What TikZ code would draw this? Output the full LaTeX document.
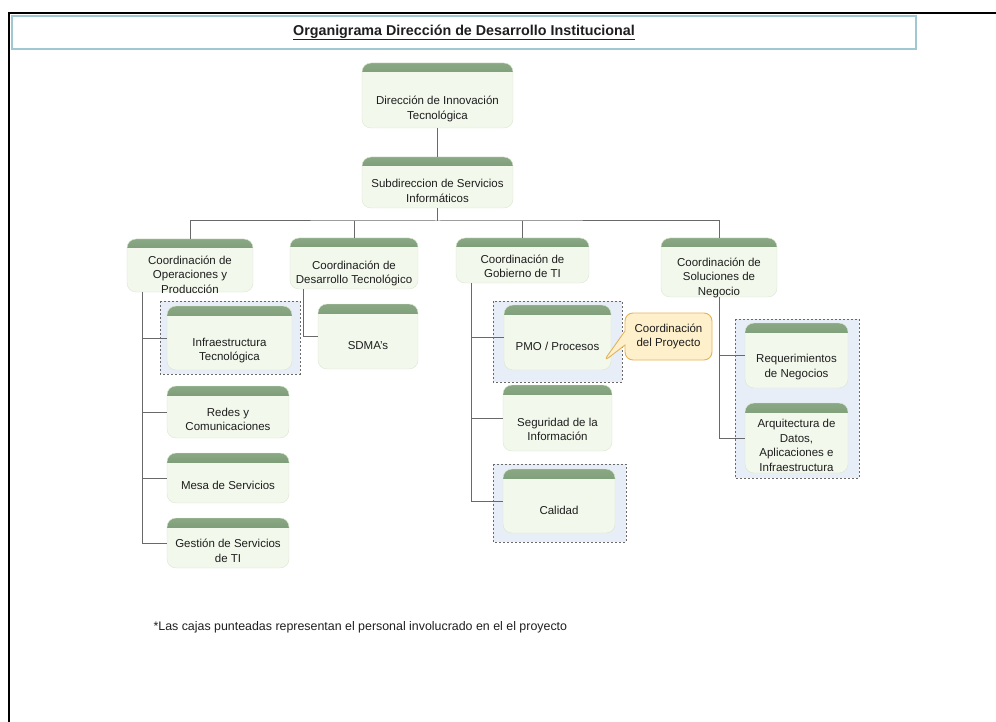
\documentclass[tikz,border=0pt]{standalone}
\usepackage{fontspec}
\setmainfont{Liberation Sans}
\usetikzlibrary{shapes.callouts, calc}
\definecolor{unitfill}{RGB}{242,248,236}
\definecolor{unitedge}{RGB}{218,231,207}
\definecolor{bandtop}{RGB}{138,168,132}
\definecolor{bandbot}{RGB}{76,112,73}
\definecolor{linkgray}{RGB}{105,105,105}
\definecolor{crewfill}{RGB}{232,238,247}
\definecolor{crewedge}{RGB}{105,105,105}
\definecolor{notefill}{RGB}{255,240,204}
\definecolor{noteedge}{RGB}{226,180,90}
\definecolor{titleedge}{RGB}{160,200,210}
\definecolor{inkgray}{RGB}{30,30,30}
\newcommand{\bandgap}[1][27pt]{\rule{0pt}{#1}}

\begin{document}
\begin{tikzpicture}[
    x=1pt, y=-1pt,
    unit/.style={draw=unitedge, fill=unitfill, rounded corners=9pt, inner xsep=0pt, inner ysep=-6pt,
      align=center, text=inkgray, font=\fontsize{11.5}{14.5}\selectfont,
      path picture={\shade[sharp corners, top color=bandtop, bottom color=bandbot]
        (path picture bounding box.north west)
        rectangle ([yshift=-9pt]path picture bounding box.north east);}},
    crew/.style={draw=crewedge, fill=crewfill, dash pattern=on 2pt off 2pt, line width=0.8pt},
    link/.style={draw=linkgray, line width=1pt},
    frame/.style={line width=2pt},
    heading/.style={draw=titleedge, line width=1.2pt, text=inkgray,
      font=\fontsize{14.3}{16}\selectfont\bfseries},
    foot/.style={font=\fontsize{12.4}{14}\selectfont, text=inkgray, anchor=west},
    callbox/.style={rectangle callout, draw=noteedge, fill=notefill, line width=0.9pt,
      rounded corners=8pt, inner sep=0pt, align=center, text=inkgray,
      font=\fontsize{11.5}{14}\selectfont, callout pointer width=14pt}
  ]
  \useasboundingbox (0,0) rectangle (996,722);

  % page frame and title
  \draw[frame] (996,13) -- (9,13) -- (9,722);
  \node[heading, minimum width=904, minimum height=33] (title) at (464,32.5)
    {\underline{Organigrama Dirección de Desarrollo Institucional}};

  % dotted boxes: people involved in the project
  \draw[crew] (160,301) rectangle (300,374);
  \draw[crew] (493,301) rectangle (622,382);
  \draw[crew] (493,464) rectangle (626,542);
  \draw[crew] (735,319) rectangle (859,478);

  % top levels
  \node[unit, minimum width=151, minimum height=65] (dir) at (437.5,95.5)
    {\bandgap[35pt]Dirección de Innovación\\Tecnológica};
  \node[unit, minimum width=151, minimum height=51] (sub) at (437.5,182.5)
    {\bandgap[25pt]Subdireccion de Servicios\\Informáticos};

  % coordinations
  \node[unit, minimum width=126, minimum height=53] (ope) at (190,265.5)
    {\bandgap Coordinación de\\Operaciones y\\Producción};
  \node[unit, minimum width=128, minimum height=51] (des) at (354,263.5)
    {\bandgap[28pt]Coordinación de\\Desarrollo Tecnológico};
  \node[unit, minimum width=133, minimum height=45] (gob) at (522.5,260.5)
    {\bandgap[20pt]Coordinación de\\Gobierno de TI};
  \node[unit, minimum width=116, minimum height=59] (sol) at (719,267.5)
    {\bandgap[29pt]Coordinación de\\Soluciones de\\Negocio};

  % areas
  \node[unit, minimum width=125, minimum height=64] (infra) at (229.5,338)
    {\bandgap[33pt]Infraestructura\\Tecnológica};
  \node[unit, minimum width=122, minimum height=52] (redes) at (228,412)
    {\bandgap[23pt]Redes y\\Comunicaciones};
  \node[unit, minimum width=122, minimum height=50] (mesa) at (228,478)
    {\bandgap[23pt]Mesa de Servicios};
  \node[unit, minimum width=122, minimum height=50] (gest) at (228,543)
    {\bandgap[24pt]Gestión de Servicios\\de TI};
  \node[unit, minimum width=100, minimum height=65] (sdma) at (368,336.5)
    {\bandgap SDMA's};
  \node[unit, minimum width=107, minimum height=65] (pmo) at (557.5,337.5)
    {\bandgap PMO / Procesos};
  \node[unit, minimum width=109, minimum height=66] (seg) at (557.5,418)
    {\bandgap[31pt]Seguridad de la\\Información};
  \node[unit, minimum width=112, minimum height=64] (cal) at (559,501)
    {\bandgap Calidad};
  \node[unit, minimum width=103, minimum height=65] (req) at (796.5,355.5)
    {\bandgap[31pt]Requerimientos\\de Negocios};
  \node[unit, minimum width=103, minimum height=70] (arq) at (796.5,438)
    {\bandgap[23pt]Arquitectura de\\Datos,\\Aplicaciones e\\Infraestructura};

  % connectors
  \coordinate (bus) at (437.5,221);
  \draw[link] (dir) -- (sub);
  \draw[link] (sub) -- (bus);
  \draw[link] (ope.north) |- (bus) -| (sol.north);
  \draw[link] (des.north) -- (des.north |- bus);
  \draw[link] (gob.north) -- (gob.north |- bus);

  \coordinate (opestem) at ([xshift=16pt]ope.south west);
  \draw[link] (opestem) |- (gest.west);
  \foreach \n in {infra,redes,mesa}
    \draw[link] (opestem |- \n.west) -- (\n.west);

  \coordinate (desstem) at ([xshift=14pt]des.south west);
  \draw[link] (desstem) |- (sdma.west);

  \coordinate (gobstem) at ([xshift=16pt]gob.south west);
  \draw[link] (gobstem) |- (cal.west);
  \foreach \n in {pmo,seg}
    \draw[link] (gobstem |- \n.west) -- (\n.west);

  \draw[link] (sol.south) |- (arq.west);
  \draw[link] (sol.south |- req.west) -- (req.west);

  % callout on PMO
  \node[callbox, minimum width=87, minimum height=47,
    callout absolute pointer={(603,362)}] (lead) at (668.5,336.5)
    {Coordinación\\del Proyecto};

  \node[foot] (note) at (150,627)
    {*Las cajas punteadas representan el personal involucrado en el el proyecto};
\end{tikzpicture}
\end{document}
